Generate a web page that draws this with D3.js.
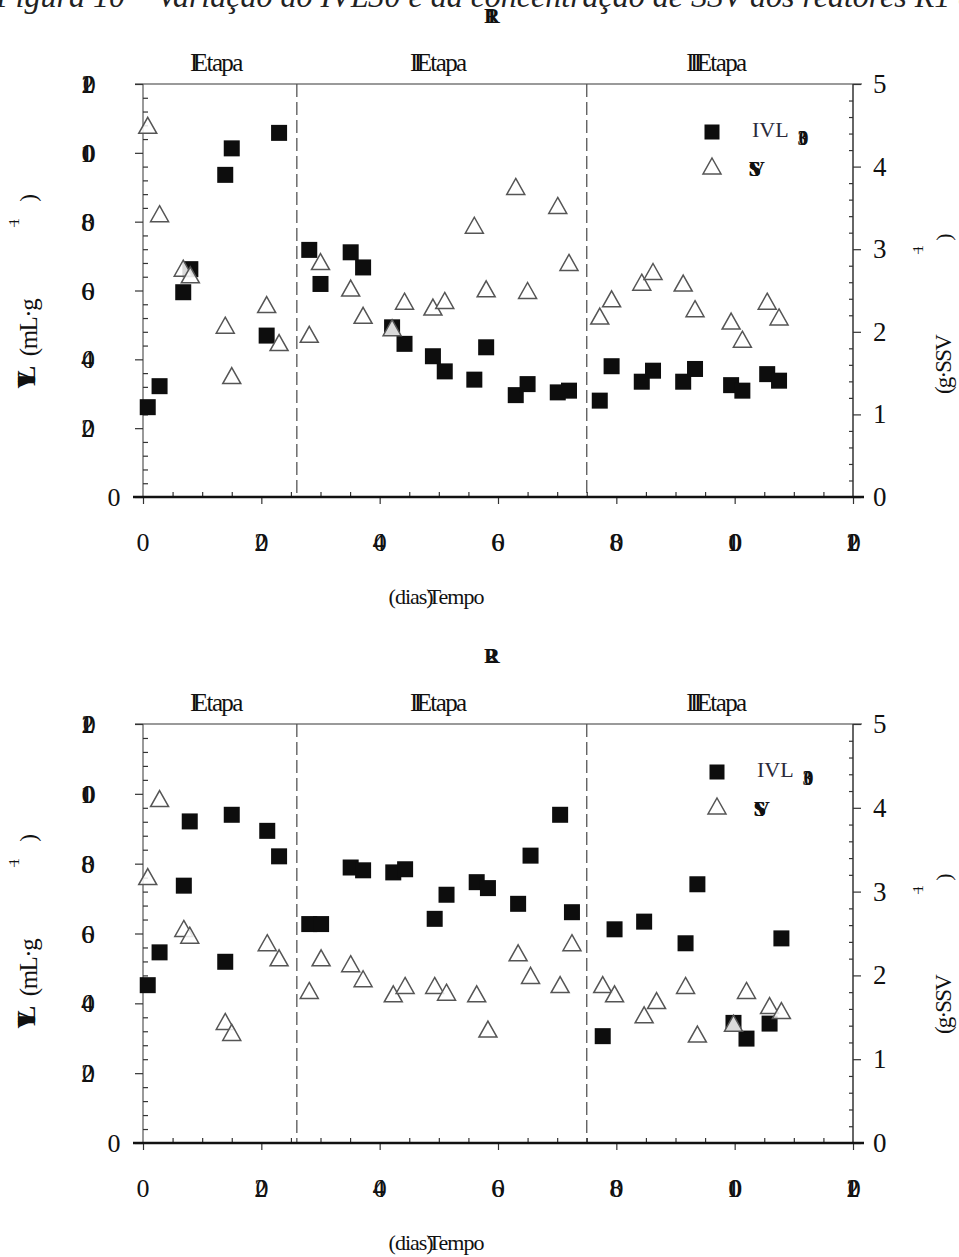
<!DOCTYPE html>
<html><head><meta charset="utf-8">
<script src="https://cdn.jsdelivr.net/npm/d3@7"></script>
<style>
html,body{margin:0;padding:0;background:#fff;}
svg text{font-family:"Liberation Serif","Times New Roman",serif;}
</style></head>
<body>
<svg id="c" width="959" height="1257"></svg>
<script>
// ---------------- DATA ----------------
const figureTitle = "Figura 10 – Variação do IVL30 e da concentração de SSV dos reatores R1 e R2";
const reactorNames = ["R1", "R2"];
const stageLabels = ["I Etapa", "II Etapa", "III Etapa"];
const stageBounds = [26, 75];
const xTicks = [0, 20, 40, 60, 80, 100, 120];
const yLeftTicks = [0, 20, 40, 60, 80, 100, 120];
const yRightTicks = [0, 1, 2, 3, 4, 5];
const xLabel = ["(dias)", "Tempo"];
const yLeftLabel = ["IVL", "(mL·g", "−1", ")"];
const yRightLabel = ["(g·SSV", "−1", ")"];
const legendLabels = ["IVL", "30", "SSV"];

const daysR1 = [0.8, 2.8, 6.8, 8.0, 13.9, 15.0, 20.9, 23.0, 28.1, 30.0, 35.1, 37.2, 42.1, 44.2, 49.0, 51.0,
  56.0, 58.0, 63.0, 65.0, 70.1, 72.0, 77.2, 79.2, 84.3, 86.2, 91.3, 93.3, 99.4, 101.3, 105.5, 107.5];
const ivlR1 = [26.1, 32.2, 59.5, 66.2, 93.6, 101.3, 46.9, 105.8, 71.8, 61.9, 71.1, 66.7, 49.3, 44.5, 40.9, 36.5,
  34.1, 43.5, 29.6, 32.8, 30.4, 30.9, 28.0, 38.0, 33.5, 36.7, 33.5, 37.2, 32.5, 30.9, 35.7, 33.8];
const ssvR1 = [4.50, 3.43, 2.77, 2.69, 2.08, 1.47, 2.33, 1.87, 1.97, 2.85, 2.53, 2.20, 2.05, 2.37, 2.30, 2.38,
  3.29, 2.52, 3.76, 2.50, 3.53, 2.84, 2.19, 2.40, 2.60, 2.73, 2.59, 2.28, 2.13, 1.91, 2.37, 2.18];

const daysR2 = [0.8, 2.8, 6.9, 7.9, 13.9, 15.0, 21.0, 23.0, 28.1, 30.1, 35.1, 37.2, 42.3, 44.3, 49.3, 51.3,
  56.4, 58.3, 63.4, 65.5, 70.5, 72.5, 77.7, 79.7, 84.7, 86.8, 91.7, 93.7, 99.8, 102.0, 105.9, 107.9];
const ivlR2 = [45.2, 54.6, 73.7, 92.1, 51.9, 94.0, 89.4, 82.1, 62.7, 62.7, 78.9, 78.1, 77.5, 78.4, 64.2, 71.1,
  74.7, 73.0, 68.5, 82.3, 94.0, 66.1, 30.6, 61.2, 63.4, null, 57.2, 74.1, 34.4, 29.9, 34.2, 58.6];
const ssvR2 = [3.18, 4.11, 2.56, 2.48, 1.45, 1.32, 2.39, 2.21, 1.82, 2.21, 2.14, 1.96, 1.78, 1.88, 1.88, 1.80,
  1.78, 1.36, 2.27, 2.00, 1.89, 2.39, 1.89, 1.78, 1.53, 1.70, 1.88, 1.30, 1.43, 1.82, 1.64, 1.58];

// ---------------- LAYOUT ----------------
const panels = [
  {name: reactorNames[0], days: daysR1, ivl: ivlR1, ssv: ssvR1, top: 84, bottom: 497, legX: 712, legY: 132},
  {name: reactorNames[1], days: daysR2, ivl: ivlR2, ssv: ssvR2, top: 724, bottom: 1143, legX: 717, legY: 772}
];
const X0 = 143, X1 = 853;
const svg = d3.select("#c");

// figure title (cut at top edge)
svg.append("text").attr("x", -4).attr("y", 7).attr("font-size", 32).attr("font-style", "italic")
  .attr("fill", "#222").text(figureTitle);

function overlapText(g, str, cx, y, size, adv, opts = {}) {
  const ls = opts.ls != null ? opts.ls : -(adv - 1.2);
  const n = str.length;
  const w = n * (adv + ls); // total advance
  return g.append("text").attr("x", cx - (adv + w - (adv + ls)) / 2).attr("y", y).attr("font-size", size)
    .attr("letter-spacing", ls).attr("text-anchor", "start")
    .attr("font-weight", opts.weight || "normal").attr("fill", opts.fill || "#111").text(str);
}

function triPath(w, h) {
  return `M0,${-h / 2}L${w / 2},${h / 2}L${-w / 2},${h / 2}Z`;
}

panels.forEach((p, pi) => {
  const g = svg.append("g");
  const x = d3.scaleLinear().domain([0, 120]).range([X0, X1]);
  const yL = d3.scaleLinear().domain([0, 120]).range([p.bottom, p.top]);
  const yR = d3.scaleLinear().domain([0, 5]).range([p.bottom, p.top]);
  const off = p.top - 84;

  // reactor name (overlapped glyphs)
  overlapText(g, p.name, 492, p.top - 61, 22, 15, {weight: "bold", ls: -14});

  // stage labels
  const edges = [0, ...stageBounds, 120];
  stageLabels.forEach((s, i) => {
    const mid = x((edges[i] + edges[i + 1]) / 2) - 4;
    const parts = s.split(" ");
    const t = g.append("text").attr("x", mid).attr("y", p.top - 13).attr("font-size", 25)
      .attr("text-anchor", "middle").attr("fill", "#111");
    t.append("tspan").attr("letter-spacing", -4.5).text(parts[0]);
    t.append("tspan").attr("dx", -1).attr("letter-spacing", -1.6).text(parts[1]);
  });

  // frame lines
  g.append("line").attr("x1", 135).attr("x2", 862).attr("y1", p.top).attr("y2", p.top)
    .attr("stroke", "#9a9a9a").attr("stroke-width", 2);
  g.append("line").attr("x1", X0).attr("x2", X0).attr("y1", p.top).attr("y2", p.bottom)
    .attr("stroke", "#555").attr("stroke-width", 1.2);
  g.append("line").attr("x1", X1).attr("x2", X1).attr("y1", p.top).attr("y2", p.bottom)
    .attr("stroke", "#333").attr("stroke-width", 1.5);

  // stage dividers
  stageBounds.forEach(b => {
    g.append("line").attr("x1", x(b)).attr("x2", x(b)).attr("y1", p.top).attr("y2", p.bottom)
      .attr("stroke", "#555").attr("stroke-width", 1.3).attr("stroke-dasharray", "13,5");
  });

  // axes via d3
  const styleAxis = sel => {
    sel.select(".domain").remove();
    sel.selectAll("line").attr("stroke", "#333").attr("stroke-width", 1.2);
    sel.selectAll("text").remove();
  };
  const xMinor = d3.range(0, 121, 5).filter(v => v % 20 !== 0);
  g.append("g").attr("transform", `translate(0,${p.bottom})`)
    .call(d3.axisBottom(x).tickValues(xTicks).tickSize(7).tickFormat("")).call(styleAxis);
  g.append("g").attr("transform", `translate(0,${p.bottom})`)
    .call(d3.axisTop(x).tickValues(xMinor).tickSize(5).tickFormat("")).call(styleAxis);
  const lMinor = d3.range(0, 121, 4).filter(v => v % 20 !== 0);
  g.append("g").attr("transform", `translate(${X0},0)`)
    .call(d3.axisLeft(yL).tickValues(yLeftTicks).tickSize(8).tickFormat("")).call(styleAxis);
  g.append("g").attr("transform", `translate(${X0},0)`)
    .call(d3.axisRight(yL).tickValues(lMinor).tickSize(5).tickFormat("")).call(styleAxis);
  const rMinor = d3.range(0, 25).map(v => v * 0.2 + 0.2).filter(v => Math.abs(v - Math.round(v)) > 0.01 && v < 5);
  g.append("g").attr("transform", `translate(${X1},0)`)
    .call(d3.axisRight(yR).tickValues(yRightTicks).tickSize(8).tickFormat("")).call(styleAxis);
  g.append("g").attr("transform", `translate(${X1},0)`)
    .call(d3.axisLeft(yR).tickValues(rMinor).tickSize(4).tickFormat("")).call(styleAxis);

  // bottom axis line (thick)
  g.append("line").attr("x1", 133).attr("x2", 864).attr("y1", p.bottom).attr("y2", p.bottom)
    .attr("stroke", "#111").attr("stroke-width", 2.6);

  // tick labels
  xTicks.forEach(v => overlapText(g, String(v), x(v), p.bottom + 54, 26, 13));
  yLeftTicks.forEach(v => {
    const s = String(v);
    if (s.length === 1) overlapText(g, s, 114, yL(v) + 9, 26, 13);
    else overlapText(g, s, 88, yL(v) + 9, 26, 13);
  });
  yRightTicks.forEach(v => {
    g.append("text").attr("x", 873).attr("y", yR(v) + 9).attr("font-size", 27)
      .attr("fill", "#111").text(String(v));
  });

  // x label
  const xl = g.append("text").attr("x", 436).attr("y", p.bottom + 107).attr("font-size", 22)
    .attr("text-anchor", "middle").attr("fill", "#111").attr("letter-spacing", -1);
  xl.append("tspan").text(xLabel[0]);
  xl.append("tspan").attr("dx", -5).text(xLabel[1]);

  // rotated y-label pieces
  const rot = (tx, ty, str, size, opts = {}) => {
    const t = g.append("text").attr("transform", `translate(${tx},${ty}) rotate(-90)`)
      .attr("font-size", size).attr("text-anchor", "middle").attr("fill", "#111")
      .attr("font-weight", opts.weight || "normal");
    if (opts.ls) t.attr("letter-spacing", opts.ls);
    t.text(str);
    return t;
  };
  rot(35, 382 + off, yLeftLabel[0], 25, {weight: "bold", ls: -12});
  rot(37, 328 + off, yLeftLabel[1], 25, {ls: -1.5});
  rot(19, 226 + off, yLeftLabel[2], 15, {ls: -6});
  rot(36, 198 + off, yLeftLabel[3], 23);
  // right y-label pieces
  rot(951, 365 + off, yRightLabel[0], 23, {ls: -1.8});
  rot(923, 253 + off, yRightLabel[1], 15, {ls: -6});
  rot(951, 237 + off, yRightLabel[2], 22);

  // data
  const sq = 16;
  const ivlPts = p.days.map((d, i) => ({d, v: p.ivl[i]})).filter(o => o.v != null);
  g.selectAll(null).data(ivlPts).join("rect")
    .attr("x", o => x(o.d) - sq / 2).attr("y", o => yL(o.v) - sq / 2)
    .attr("width", sq).attr("height", sq).attr("fill", "#0d0d0d");
  const ssvPts = p.days.map((d, i) => ({d, v: p.ssv[i]}));
  g.selectAll(null).data(ssvPts).join("path")
    .attr("transform", o => `translate(${x(o.d)},${yR(o.v)})`)
    .attr("d", triPath(18, 16)).attr("fill", "#fff").attr("fill-opacity", 0.85)
    .attr("stroke", "#555").attr("stroke-width", 1.5);

  // legend
  g.append("rect").attr("x", p.legX - 7.5).attr("y", p.legY - 7.5).attr("width", 15).attr("height", 15)
    .attr("fill", "#0d0d0d");
  g.append("path").attr("transform", `translate(${p.legX},${p.legY + 34})`).attr("d", triPath(18, 16))
    .attr("fill", "#fff").attr("stroke", "#555").attr("stroke-width", 1.5);
  g.append("text").attr("x", p.legX + 40).attr("y", p.legY + 5).attr("font-size", 22)
    .attr("fill", "#2a2a3a").text(legendLabels[0]);
  overlapText(g, legendLabels[1], p.legX + 91, p.legY + 13, 20, 10, {weight: "bold", ls: -9});
  overlapText(g, legendLabels[2], p.legX + 44, p.legY + 44, 22, 13, {weight: "bold", ls: -12});
});
</script>
</body></html>
